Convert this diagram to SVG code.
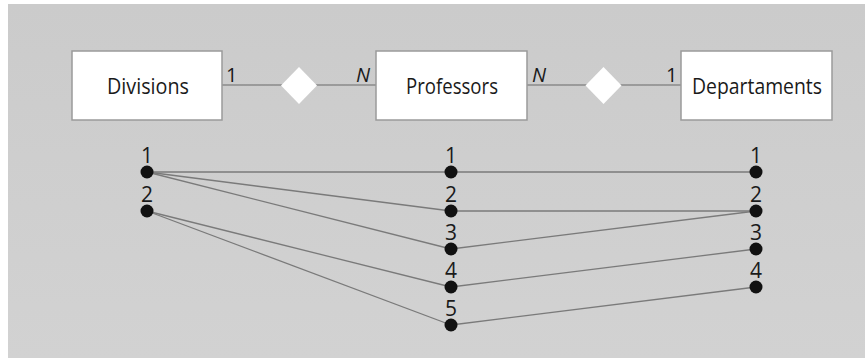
<svg xmlns="http://www.w3.org/2000/svg" width="865" height="358" viewBox="0 0 865 358">
  <defs>
    <linearGradient id="bg" x1="0" y1="0" x2="0" y2="1">
      <stop offset="0" stop-color="#cbcbcb"/>
      <stop offset="1" stop-color="#d2d2d2"/>
    </linearGradient>
  </defs>
  <style>
    .entity { fill: #ffffff; stroke: #9a9a9a; stroke-width: 1.5; }
    .rel { fill: #ffffff; stroke: none; }
    .link { stroke: #8a8a8a; stroke-width: 1.6; fill: none; }
    .inst { stroke: #7a7a7a; stroke-width: 1.3; fill: none; }
    .dot { fill: #111111; }
    .name { font-family: "Open Sans", "Noto Sans", sans-serif; font-size: 21px; fill: #1a1a1a; text-anchor: middle; }
    .card { font-family: "Open Sans", "Noto Sans", sans-serif; font-size: 20px; fill: #1a1a1a; }
    .num { font-family: "Open Sans", "Noto Sans", sans-serif; font-size: 21px; fill: #1a1a1a; text-anchor: middle; }
  </style>

  <rect x="8" y="4" width="857" height="354" fill="url(#bg)"/>

  <!-- ER schema: relationship lines -->
  <g id="schema-links">
    <line class="link" x1="222" y1="85" x2="376" y2="85"/>
    <line class="link" x1="527" y1="85" x2="681" y2="85"/>
  </g>

  <g id="divisions">
    <rect class="entity" x="72" y="51" width="150" height="69"/>
    <text class="name" x="148" y="94" textLength="82" lengthAdjust="spacingAndGlyphs">Divisions</text>
  </g>
  <g id="rel-div-prof">
    <polygon class="rel" points="299,67 317,85.5 299,104 281,85.5"/>
    <text class="card" x="226" y="82">1</text>
    <text class="card" x="356" y="82" font-style="italic">N</text>
  </g>
  <g id="professors">
    <rect class="entity" x="376" y="51" width="151" height="69"/>
    <text class="name" x="452" y="94" textLength="92" lengthAdjust="spacingAndGlyphs">Professors</text>
  </g>
  <g id="rel-prof-dept">
    <polygon class="rel" points="603.5,67 621.5,85.5 603.5,104 585.5,85.5"/>
    <text class="card" x="532" y="82" font-style="italic">N</text>
    <text class="card" x="666" y="82">1</text>
  </g>
  <g id="departaments">
    <rect class="entity" x="681" y="51" width="151" height="69"/>
    <text class="name" x="757" y="94" textLength="130" lengthAdjust="spacingAndGlyphs">Departaments</text>
  </g>

  <!-- instance connections -->
  <g id="instance-links">
    <line class="inst" x1="147" y1="172" x2="451" y2="172"/>
    <line class="inst" x1="147" y1="172" x2="451" y2="211"/>
    <line class="inst" x1="147" y1="172" x2="451" y2="249"/>
    <line class="inst" x1="147" y1="211" x2="451" y2="287"/>
    <line class="inst" x1="147" y1="211" x2="451" y2="325"/>
    <line class="inst" x1="451" y1="172" x2="756" y2="172"/>
    <line class="inst" x1="451" y1="211" x2="756" y2="211"/>
    <line class="inst" x1="451" y1="249" x2="756" y2="211"/>
    <line class="inst" x1="451" y1="287" x2="756" y2="249"/>
    <line class="inst" x1="451" y1="325" x2="756" y2="287"/>
  </g>

  <!-- Division instances -->
  <g id="div-1"><circle class="dot" cx="147" cy="172" r="6.5"/><text class="num" x="147" y="163">1</text></g>
  <g id="div-2"><circle class="dot" cx="147" cy="211" r="6.5"/><text class="num" x="147" y="202">2</text></g>

  <!-- Professor instances -->
  <g id="prof-1"><circle class="dot" cx="451" cy="172" r="6.5"/><text class="num" x="451" y="163">1</text></g>
  <g id="prof-2"><circle class="dot" cx="451" cy="211" r="6.5"/><text class="num" x="451" y="202">2</text></g>
  <g id="prof-3"><circle class="dot" cx="451" cy="249" r="6.5"/><text class="num" x="451" y="240">3</text></g>
  <g id="prof-4"><circle class="dot" cx="451" cy="287" r="6.5"/><text class="num" x="451" y="278">4</text></g>
  <g id="prof-5"><circle class="dot" cx="451" cy="325" r="6.5"/><text class="num" x="451" y="316">5</text></g>

  <!-- Department instances -->
  <g id="dept-1"><circle class="dot" cx="756" cy="172" r="6.5"/><text class="num" x="756" y="163">1</text></g>
  <g id="dept-2"><circle class="dot" cx="756" cy="211" r="6.5"/><text class="num" x="756" y="202">2</text></g>
  <g id="dept-3"><circle class="dot" cx="756" cy="249" r="6.5"/><text class="num" x="756" y="240">3</text></g>
  <g id="dept-4"><circle class="dot" cx="756" cy="287" r="6.5"/><text class="num" x="756" y="278">4</text></g>
</svg>
